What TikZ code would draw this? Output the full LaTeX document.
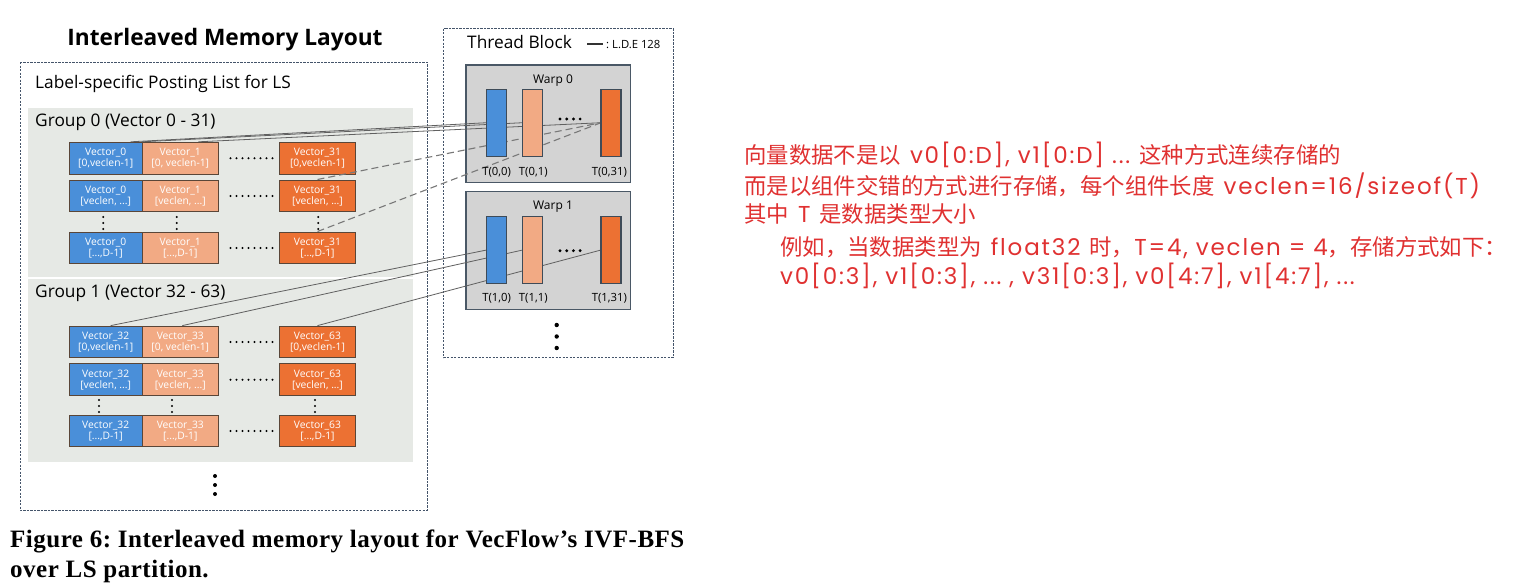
\documentclass[tikz,border=0pt]{standalone}
\usepackage{fontspec}
\setmainfont{Open Sans}
\newfontfamily\cjk{Noto Sans CJK SC}
\newfontfamily\rlat[LetterSpace=8]{Poppins}
\newfontfamily\capfont[LetterSpace=2]{Liberation Serif}
\frenchspacing
\definecolor{blueC}{HTML}{4A8FD9}
\definecolor{lorC}{HTML}{F2AA84}
\definecolor{orC}{HTML}{EC7133}
\definecolor{blkD}{HTML}{5A4638}
\definecolor{barD}{HTML}{3E4B58}
\definecolor{panelC}{HTML}{E6E9E5}
\definecolor{warpC}{HTML}{D3D3D3}
\definecolor{warpD}{HTML}{4A5866}
\definecolor{dashC}{HTML}{44546A}
\definecolor{lineC}{HTML}{606060}
\definecolor{redC}{HTML}{E03131}
\tikzset{
  txt/.style={inner sep=0pt, text=black},
  lbl/.style={txt, anchor=west, font=\fontsize{17.3}{20}\selectfont},
  vblk/.style={rectangle, draw=blkD, line width=1.1pt, minimum height=31.7pt, inner sep=0pt,
    text=white, align=center, font=\fontsize{10.3}{11.2}\selectfont},
  bblk/.style={vblk, fill=blueC, minimum width=73.3pt},
  lblk/.style={vblk, fill=lorC, minimum width=76pt},
  oblk/.style={vblk, fill=orC, minimum width=76.4pt},
  bar/.style={rectangle, draw=barD, line width=1.1pt, minimum width=20pt, minimum height=66.7pt, inner sep=0pt},
  warpbox/.style={rectangle, draw=warpD, fill=warpC, line width=1.3pt, minimum width=164.7pt, inner sep=0pt},
  dashbox/.style={draw=dashC, line width=0.9pt, dash pattern=on 2.2pt off 1.3pt},
  conn/.style={draw=lineC, line width=0.8pt},
  dconn/.style={draw=lineC!85, line width=1.1pt, dash pattern=on 7pt off 4pt},
  tlab/.style={inner sep=0pt, font=\fontsize{11.3}{13}\selectfont},
  redline/.style={inner sep=0pt, anchor=west, text=redC, font=\fontsize{20}{24}\selectfont, text height=17pt, text depth=6pt},
  capt/.style={txt, anchor=west, font=\capfont\bfseries\fontsize{25}{28}\selectfont},
}
\newcommand{\cj}[1]{{\cjk\fontsize{22.4}{24}\selectfont #1}}
\newcommand{\rl}[1]{{\rlat\fontsize{23}{26}\selectfont #1}}
\newcommand{\gap}{\hspace{9pt}}
\begin{document}
\begin{tikzpicture}[x=1pt,y=-1pt]
\useasboundingbox[fill=white] (0,0) rectangle (1523,587);

% ---------- left: memory layout ----------
\node[txt, font=\bfseries\fontsize{22.7}{26}\selectfont] (title) at (225,40) {Interleaved Memory Layout};
\draw[dashbox] (20,62) rectangle (427,510);
\node[lbl] (plabel) at (35,84) {Label-specific Posting List for LS};
\fill[panelC] (28,108) rectangle (413,276.5);
\fill[panelC] (28,279) rectangle (413,462);
\node[lbl] (g0) at (35,122) {Group 0 (Vector 0 - 31)};
\node[lbl] (g1) at (35,293) {Group 1 (Vector 32 - 63)};

% group 0 blocks
\node[bblk] (v0a) at (105.7,158.2) {Vector\_0\\{[}0,veclen-1]};
\node[lblk] (v1a) at (180.3,158.2) {Vector\_1\\{[}0, veclen-1]};
\node[oblk] (v31a) at (317.5,158.2) {Vector\_31\\{[}0,veclen-1]};
\node[bblk] (v0b) at (105.7,195.9) {Vector\_0\\{[}veclen, ...]};
\node[lblk] (v1b) at (180.3,195.9) {Vector\_1\\{[}veclen, ...]};
\node[oblk] (v31b) at (317.5,195.9) {Vector\_31\\{[}veclen, ...]};
\node[bblk] (v0c) at (105.7,247.9) {Vector\_0\\{[}...,D-1]};
\node[lblk] (v1c) at (180.3,247.9) {Vector\_1\\{[}...,D-1]};
\node[oblk] (v31c) at (317.5,247.9) {Vector\_31\\{[}...,D-1]};
% group 1 blocks
\node[bblk] (v32a) at (105.7,342) {Vector\_32\\{[}0,veclen-1]};
\node[lblk] (v33a) at (180.3,342) {Vector\_33\\{[}0, veclen-1]};
\node[oblk] (v63a) at (317.5,342) {Vector\_63\\{[}0,veclen-1]};
\node[bblk] (v32b) at (105.7,379.7) {Vector\_32\\{[}veclen, ...]};
\node[lblk] (v33b) at (180.3,379.7) {Vector\_33\\{[}veclen, ...]};
\node[oblk] (v63b) at (317.5,379.7) {Vector\_63\\{[}veclen, ...]};
\node[bblk] (v32c) at (105.7,430.9) {Vector\_32\\{[}...,D-1]};
\node[lblk] (v33c) at (180.3,430.9) {Vector\_33\\{[}...,D-1]};
\node[oblk] (v63c) at (317.5,430.9) {Vector\_63\\{[}...,D-1]};

% horizontal dots between blocks
\foreach \yy in {158.2,195.9,247.9,342,379.7,430.9}
  \foreach \i in {0,...,7} \fill ({230.5+\i*6},\yy) circle (1.1pt);
% vertical dots
\foreach \xx in {103.3,176.7,318.3}
  \foreach \yy in {217,223,229} \fill (\xx,\yy) circle (1.1pt);
\foreach \xx in {99,172,315}
  \foreach \yy in {400,406,412} \fill (\xx,\yy) circle (1.1pt);
\foreach \yy in {476,485,494} \fill (215,\yy) circle (2pt);

% ---------- right: thread block ----------
\draw[dashbox] (443.5,28.5) rectangle (673,357.5);
\node[lbl] (tb) at (467,42) {Thread Block};
\node[txt, anchor=west, font=\fontsize{11.3}{13}\selectfont] (leg) at (606,44) {: L.D.E 128};
\draw[line width=1.2pt, black!80] ([xshift=-19pt]leg.west) -- ([xshift=-3pt]leg.west);

\node[warpbox, minimum height=117.3pt] (w0) at (548.3,123.7) {};
\node[warpbox, minimum height=117.6pt] (w1) at (548.3,250.5) {};
\node[tlab, font=\fontsize{12}{14}\selectfont] (w0l) at (553,81) {Warp 0};
\node[tlab, font=\fontsize{12}{14}\selectfont] (w1l) at (553,207) {Warp 1};

% connectors (behind bars)
\draw[conn] ([xshift=25pt]v0a.north) -- (486.7,122.7);
\draw[conn] (v1a.north west) -- (522.7,122.7);
\draw[conn] ([xshift=18pt]v1a.north) -- (601,122.7);
\draw[dconn] (v31b.north) -- (601,122.7);
\draw[dconn] (v31c.north) -- (601,122.7);
\draw[conn] ([xshift=5pt]v32a.north) -- (486.7,250);
\draw[conn] ([xshift=2pt]v33a.north) -- (522.7,250);
\draw[conn] (v63a.north) -- (601,250);

\node[bar, fill=blueC] (b00) at (496.7,122.7) {};
\node[bar, fill=lorC] (b01) at (532.5,122.7) {};
\node[bar, fill=orC] (b031) at (611,122.7) {};
\node[bar, fill=blueC] (b10) at (496.7,250) {};
\node[bar, fill=lorC] (b11) at (532.5,250) {};
\node[bar, fill=orC] (b131) at (611,250) {};

\node[tlab] (t00) at (496.7,172.7) {T(0,0)};
\node[tlab] (t01) at (533.3,172.7) {T(0,1)};
\node[tlab] (t031) at (609.3,172.7) {T(0,31)};
\node[tlab] (t10) at (496.7,298.3) {T(1,0)};
\node[tlab] (t11) at (533.3,298.3) {T(1,1)};
\node[tlab] (t131) at (609.3,298.3) {T(1,31)};

\foreach \i in {0,...,3} {
  \fill ({560+\i*6.7},119) circle (1.6pt);
  \fill ({560+\i*6.7},250.7) circle (1.6pt);
}
\foreach \yy in {325,336.5,348} \fill (556.7,\yy) circle (2.2pt);

% ---------- caption ----------
\node[capt] (cap1) at (10,541.5) {Figure 6: Interleaved memory layout for VecFlow’s IVF-BFS};
\node[capt] (cap2) at (10,571.5) {over LS partition.};

% ---------- red notes ----------
\node[redline] (n1) at (744,158) {\cj{向量数据不是以}\gap\rl{v0[0:D], v1[0:D] ...}\gap\cj{这种方式连续存储的}};
\node[redline] (n2) at (744,189) {\cj{而是以组件交错的方式进行存储，每个组件长度}\gap\rl{veclen=16/sizeof(T)}};
\node[redline] (n3) at (744,217) {\cj{其中}\gap\rl{T}\gap\cj{是数据类型大小}};
\node[redline] (n4) at (780,250) {\cj{例如，当数据类型为}\gap\rl{float32}\gap\cj{时，}\rl{T=4, veclen = 4}\cj{，存储方式如下：}};
\node[redline] (n5) at (780,279) {\rl{v0[0:3], v1[0:3], ... , v31[0:3], v0[4:7], v1[4:7], ...}};
\end{tikzpicture}
\end{document}
